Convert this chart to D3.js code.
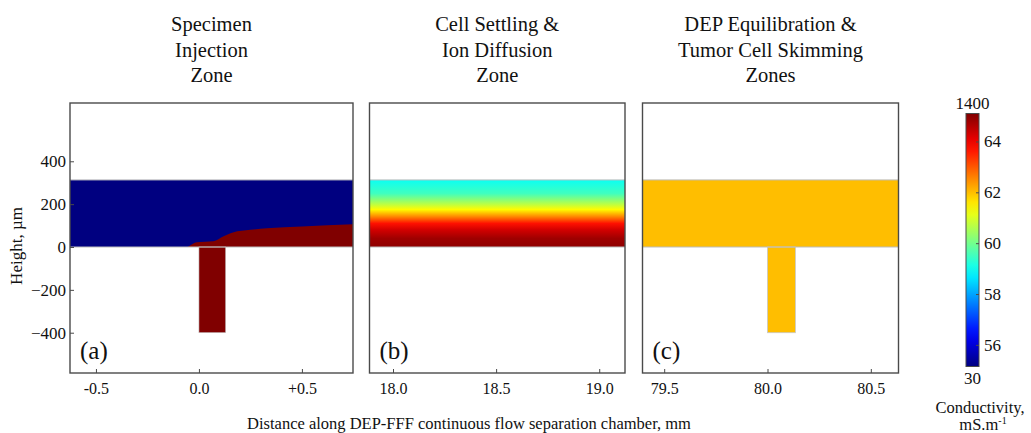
<!DOCTYPE html>
<html>
<head>
<meta charset="utf-8">
<script src="https://cdn.jsdelivr.net/npm/d3@7"></script>
</head>
<body style="margin:0; background:#fff">
<svg id="chart" style="font-family:'Liberation Serif','Times New Roman',Tinos,serif"></svg>
<script>
// panel texts
const panelTitles = [
  ["Specimen", "Injection", "Zone"],
  ["Cell Settling &", "Ion Diffusion", "Zone"],
  ["DEP Equilibration &", "Tumor Cell Skimming", "Zones"]
];
const panelLabels = ["(a)", "(b)", "(c)"];

// x domains (mm) and ticks per panel
const xDomains = [[-0.626, 0.748], [17.886, 19.125], [79.395, 80.634]];
const xTicks = [[-0.5, 0, 0.5], [18, 18.5, 19], [79.5, 80, 80.5]];
const xTickLabels = [["-0.5", "0.0", "+0.5"], ["18.0", "18.5", "19.0"], ["79.5", "80.0", "80.5"]];

// height axis (um)
const yDomain = [-588, 672];
const yTicks = [-400, -200, 0, 200, 400];

// chamber geometry (um / mm)
const channelTop = 313;
const inletBottom = -400;
const inletA = [0.0, 0.13];
const inletC = [80.0, 80.135];

// panel (a): sample / carrier conductivities and interface profile
const sampleCond = 1400;
const carrierCond = 30;
const interfaceX = [-0.055, -0.035, -0.01, 0.03, 0.07, 0.12, 0.165, 0.25, 0.33, 0.5, 0.748];
const interfaceH = [0, 12, 22, 25, 27, 50, 68, 80, 87, 96, 106];

// panel (b): conductivity vs height
const profileH = [0, 40, 80, 110, 140, 175, 200, 250, 313];
const profileCond = [64.95, 64.8, 64.3, 63.7, 62.6, 61.4, 60.7, 59.5, 59.0];

// panel (c): uniform conductivity
const equilCond = 62.0;

// colour bar
const cbarDomain = [55.15, 65.1];
const cbarTicks = [56, 58, 60, 62, 64];
const cbarEnds = ["1400", "30"];

const FONT = "'Liberation Serif', 'Times New Roman', Tinos, serif";
const W = 1031, H = 433;
const svg = d3.select("#chart").attr("width", W).attr("height", H);

// every text gets the serif font
const txt = (sel, size) => sel.attr("font-family", FONT).style("font-family", FONT)
  .style("font-size", size + "px").attr("fill", "#111");

// jet colormap
const jetT = d3.scaleLinear()
  .domain([0, 0.125, 0.375, 0.625, 0.875, 1])
  .range(["#000080", "#0000ff", "#00ffff", "#ffff00", "#ff0000", "#800000"])
  .interpolate(d3.interpolateRgb);
const norm = d3.scaleLinear().domain(cbarDomain).range([0, 1]).clamp(true);
const color = v => jetT(norm(v));

const panelX = [[70, 353], [369.5, 625], [642.5, 898.5]];
const plotTop = 103, plotBottom = 373;
const y = d3.scaleLinear().domain(yDomain).range([plotBottom, plotTop]);

const defs = svg.append("defs");

panelX.forEach((px, i) => {
  const x = d3.scaleLinear().domain(xDomains[i]).range(px);
  const g = svg.append("g");
  const cx = (px[0] + px[1]) / 2;

  // titles
  panelTitles[i].forEach((t, j) => {
    txt(svg.append("text").attr("x", cx).attr("y", 31 + j * 25.5)
      .attr("text-anchor", "middle").text(t), 20.5);
  });

  const chan = { x: px[0], w: px[1] - px[0], y: y(channelTop), h: y(0) - y(channelTop) };

  if (i === 0) {
    g.append("rect").attr("x", chan.x).attr("y", chan.y).attr("width", chan.w).attr("height", chan.h)
      .attr("fill", color(carrierCond));
    const pts = interfaceX.map((d, k) => [d, interfaceH[k]]);
    const area = d3.area().x(d => x(d[0])).y0(y(0)).y1(d => y(d[1])).curve(d3.curveMonotoneX);
    g.append("path").attr("d", area(pts)).attr("fill", color(sampleCond));
    g.append("rect").attr("x", x(inletA[0])).attr("y", y(0)).attr("width", x(inletA[1]) - x(inletA[0]))
      .attr("height", y(inletBottom) - y(0)).attr("fill", color(sampleCond))
      .attr("stroke", "#c8c8c8").attr("stroke-width", 0.6);
  } else if (i === 1) {
    const grad = defs.append("linearGradient").attr("id", "profile")
      .attr("x1", 0).attr("x2", 0).attr("y1", 1).attr("y2", 0);
    profileH.forEach((h, k) => {
      grad.append("stop").attr("offset", h / channelTop).attr("stop-color", color(profileCond[k]));
    });
    g.append("rect").attr("x", chan.x).attr("y", chan.y).attr("width", chan.w).attr("height", chan.h)
      .attr("fill", "url(#profile)");
  } else {
    g.append("rect").attr("x", chan.x).attr("y", chan.y).attr("width", chan.w).attr("height", chan.h)
      .attr("fill", color(equilCond));
    g.append("rect").attr("x", x(inletC[0])).attr("y", y(0)).attr("width", x(inletC[1]) - x(inletC[0]))
      .attr("height", y(inletBottom) - y(0)).attr("fill", color(equilCond))
      .attr("stroke", "#c8c8c8").attr("stroke-width", 0.8);
  }

  // channel walls
  [channelTop, 0].forEach(h => {
    g.append("line").attr("x1", px[0]).attr("x2", px[1]).attr("y1", y(h)).attr("y2", y(h))
      .attr("stroke", "#bdbdbd").attr("stroke-width", 1);
  });

  // frame
  g.append("rect").attr("x", px[0]).attr("y", plotTop).attr("width", px[1] - px[0]).attr("height", plotBottom - plotTop)
    .attr("fill", "none").attr("stroke", "#4a4a4a").attr("stroke-width", 1.4);

  // bottom axis, ticks inward
  const xa = d3.axisBottom(x).tickValues(xTicks[i]).tickFormat((d, k) => xTickLabels[i][k])
    .tickSizeInner(-4).tickSizeOuter(0).tickPadding(10);
  const ax = svg.append("g").attr("transform", `translate(0,${plotBottom})`).call(xa)
    .attr("font-family", FONT);
  ax.select(".domain").remove();
  ax.selectAll("line").attr("stroke", "#4a4a4a");
  txt(ax.selectAll("text"), 16);

  if (i === 0) {
    const ya = d3.axisLeft(y).tickValues(yTicks).tickSizeInner(-4).tickSizeOuter(0).tickPadding(4);
    const ay = svg.append("g").attr("transform", `translate(${px[0]},0)`).call(ya)
      .attr("font-family", FONT);
    ay.select(".domain").remove();
    ay.selectAll("line").attr("stroke", "#4a4a4a");
    txt(ay.selectAll("text"), 17);
  }

  txt(svg.append("text").attr("x", px[0] + 10).attr("y", 359).text(panelLabels[i]), 25);
});

// y label
txt(svg.append("text").attr("transform", "translate(22,246) rotate(-90)").attr("text-anchor", "middle")
  .text("Height, \u00b5m"), 17);

// x label
txt(svg.append("text").attr("x", 469).attr("y", 429).attr("text-anchor", "middle")
  .text("Distance along DEP-FFF continuous flow separation chamber, mm"), 16.5);

// colour bar
const cb = { x: 966, w: 13, y0: 113.5, y1: 366.5 };
const cy = d3.scaleLinear().domain(cbarDomain).range([cb.y1, cb.y0]);
const cgrad = defs.append("linearGradient").attr("id", "cbar")
  .attr("x1", 0).attr("x2", 0).attr("y1", 1).attr("y2", 0);
d3.range(0, 1.0001, 0.05).forEach(t => {
  cgrad.append("stop").attr("offset", t).attr("stop-color", jetT(t));
});
svg.append("rect").attr("x", cb.x).attr("y", cb.y0).attr("width", cb.w).attr("height", cb.y1 - cb.y0)
  .attr("fill", "url(#cbar)").attr("stroke", "#4a4a4a").attr("stroke-width", 1);
const ca = d3.axisRight(cy).tickValues(cbarTicks).tickSizeInner(-3).tickSizeOuter(0).tickPadding(5);
const cax = svg.append("g").attr("transform", `translate(${cb.x + cb.w},0)`).call(ca)
  .attr("font-family", FONT);
cax.select(".domain").remove();
cax.selectAll("line").attr("stroke", "#4a4a4a");
txt(cax.selectAll("text"), 17);

txt(svg.append("text").attr("x", cb.x + cb.w / 2).attr("y", 109).attr("text-anchor", "middle")
  .text(cbarEnds[0]), 17);
txt(svg.append("text").attr("x", cb.x + cb.w / 2).attr("y", 384).attr("text-anchor", "middle")
  .text(cbarEnds[1]), 17);
txt(svg.append("text").attr("x", 980).attr("y", 413).attr("text-anchor", "middle")
  .text("Conductivity,"), 16.5);
const unit = txt(svg.append("text").attr("x", 983).attr("y", 430).attr("text-anchor", "middle"), 16.5);
unit.append("tspan").text("mS.m");
unit.append("tspan").attr("dy", -6).style("font-size", "10px").text("-1");
</script>
</body>
</html>
